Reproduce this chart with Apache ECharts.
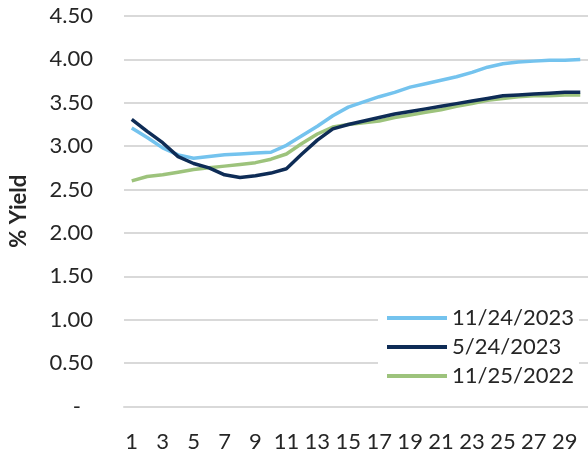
<!DOCTYPE html>
<html>
<head>
<meta charset="utf-8">
<script src="https://cdn.jsdelivr.net/npm/echarts@6/dist/echarts.min.js"></script>
<style>
html,body{margin:0;padding:0;background:#fff;}
#c{width:588px;height:453px;}
</style>
</head>
<body>
<div id="c"></div>
<script>
const categories = ['1','2','3','4','5','6','7','8','9','10','11','12','13','14','15','16','17','18','19','20','21','22','23','24','25','26','27','28','29','30'];
const seriesNames = ['11/24/2023','5/24/2023','11/25/2022'];
const nov2023 = [3.21,3.10,2.98,2.90,2.86,2.88,2.90,2.91,2.92,2.93,3.01,3.12,3.23,3.35,3.45,3.51,3.57,3.62,3.68,3.72,3.76,3.80,3.85,3.91,3.95,3.97,3.98,3.99,3.99,4.00];
const may2023 = [3.31,3.17,3.04,2.88,2.80,2.75,2.67,2.64,2.66,2.69,2.74,2.91,3.07,3.20,3.25,3.29,3.33,3.37,3.40,3.43,3.46,3.49,3.52,3.55,3.58,3.59,3.60,3.61,3.62,3.62];
const nov2022 = [2.60,2.65,2.67,2.70,2.73,2.75,2.77,2.79,2.81,2.85,2.91,3.03,3.14,3.22,3.25,3.27,3.29,3.33,3.36,3.39,3.42,3.46,3.49,3.53,3.55,3.57,3.58,3.58,3.59,3.59];
const yTicks = [0,0.5,1,1.5,2,2.5,3,3.5,4,4.5];

const colors = ['#74c3ee','#0e2c56','#9dc37c'];
const FONT = 'Lato';
const TXT = '#262626';
const chart = echarts.init(document.getElementById('c'));
const gridColor = '#d9d9d9';
chart.setOption({
  animation:false,
  textStyle:{fontFamily:FONT},
  grid:{left:124,right:0,top:16,bottom:46.5,containLabel:false,outerBoundsMode:'none'},
  xAxis:[{
    type:'category',data:categories,boundaryGap:true,
    axisLine:{lineStyle:{color:gridColor,width:2}},
    axisTick:{interval:1,length:8,lineStyle:{color:gridColor,width:2}},
    axisLabel:{interval:1,margin:24,fontSize:22,color:TXT,fontFamily:FONT}
  },{
    type:'category',data:categories,boundaryGap:true,position:'bottom',
    axisLine:{show:false},
    axisTick:{interval:1,inside:true,length:6,lineStyle:{color:gridColor,width:2}},
    axisLabel:{show:false}
  }],
  yAxis:{
    type:'value',min:yTicks[0],max:yTicks[yTicks.length-1],interval:0.5,
    name:'% Yield',nameLocation:'middle',nameRotate:90,nameGap:94,
    nameTextStyle:{fontSize:22,fontWeight:'bold',color:TXT,fontFamily:FONT},
    axisLine:{show:false},axisTick:{show:false},
    splitLine:{lineStyle:{color:gridColor,width:2}},
    axisLabel:{margin:31,fontSize:22,color:TXT,fontFamily:FONT,
      formatter:function(v){return v===0?'{d|-}':v.toFixed(2);},
      rich:{d:{fontSize:22,color:TXT,padding:[0,12,0,0],fontFamily:FONT}}}
  },
  legend:{
    orient:'vertical',left:378,top:302,
    padding:[5,5,5,9],backgroundColor:'#fff',
    itemWidth:60,itemHeight:4,itemGap:7,icon:'rect',
    textStyle:{fontSize:22,color:TXT,lineHeight:22,fontFamily:FONT},
    data:seriesNames
  },
  series:[
    {name:seriesNames[0],type:'line',data:nov2023,showSymbol:false,symbol:'none',lineStyle:{width:3.5,color:colors[0]},itemStyle:{color:colors[0]},z:3},
    {name:seriesNames[1],type:'line',data:may2023,showSymbol:false,symbol:'none',lineStyle:{width:3.5,color:colors[1]},itemStyle:{color:colors[1]},z:4},
    {name:seriesNames[2],type:'line',data:nov2022,showSymbol:false,symbol:'none',lineStyle:{width:3.5,color:colors[2]},itemStyle:{color:colors[2]},z:2}
  ]
});
</script>
</body>
</html>
